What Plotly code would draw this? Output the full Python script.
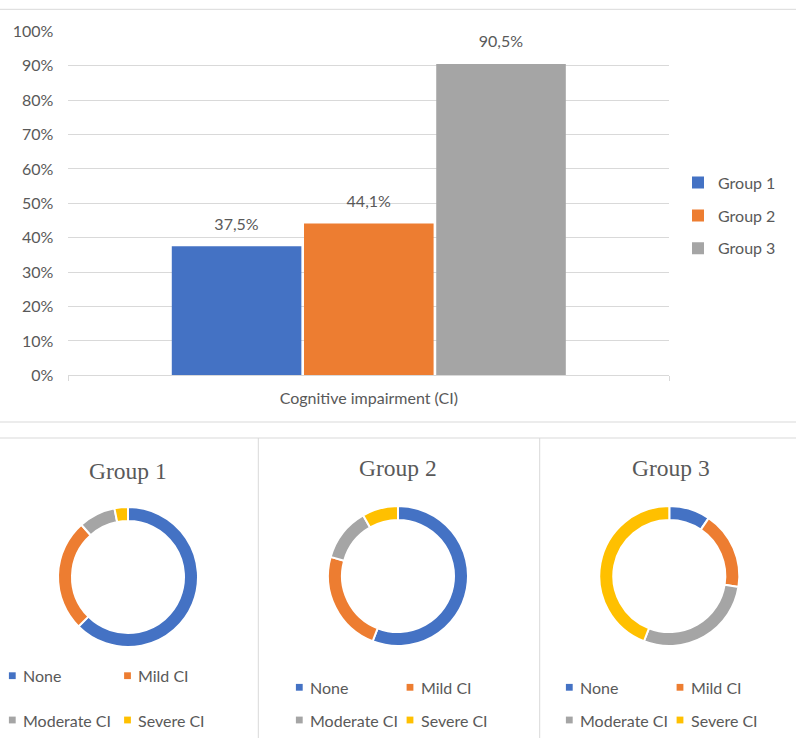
import plotly.graph_objects as go

W, H = 796, 738

# ---------------- data ----------------
category = ["Cognitive impairment (CI)"]
groups = ["Group 1", "Group 2", "Group 3"]
ci_share = [0.375, 0.441, 0.905]
group_colors = ["#4472C4", "#ED7D31", "#A5A5A5"]

severity_labels = ["None", "Mild CI", "Moderate CI", "Severe CI"]
severity_colors = ["#4472C4", "#ED7D31", "#A5A5A5", "#FFC000"]
group1_severity = [62.5, 25.9, 8.5, 3.1]
group2_severity = [55.9, 23.5, 12.3, 8.3]
group3_severity = [9.5, 18.0, 28.4, 44.1]
severity_values = [group1_severity, group2_severity, group3_severity]

y_ticks = [0.0, 0.1, 0.2, 0.3, 0.4, 0.5, 0.6, 0.7, 0.8, 0.9, 1.0]

# ---------------- layout helpers (pixel -> paper) ----------------
def px(x):
    return x / W


def py(y):
    return 1 - y / H


TEXT = "#595959"
LINE = "#D9D9D9"
SANS = "Lato"
SERIF = "Liberation Serif"
FS = 16

fig = go.Figure()

# bars
for name, val, col in zip(groups, ci_share, group_colors):
    fig.add_trace(go.Bar(
        x=category, y=[val], name=name, legendgroup=name,
        marker=dict(color=col, line=dict(width=0)),
        texttemplate="<span style='font-size:%dpx'>%%{y:.1%%}</span><br>\u00a0" % FS,
        textposition="outside",
        textfont=dict(family=SANS, size=9, color=TEXT),
        cliponaxis=False, hoverinfo="skip",
    ))

# donuts
pie_centers = [(128, 577), (398, 576), (669.3, 576)]
R = 70
for name, vals, (cx, cy) in zip(groups, severity_values, pie_centers):
    fig.add_trace(go.Pie(
        labels=severity_labels, values=vals, name=name,
        hole=0.8, sort=False, direction="clockwise", rotation=0,
        marker=dict(colors=severity_colors, line=dict(color="white", width=2)),
        textinfo="none", hoverinfo="label+value", showlegend=False,
        domain=dict(x=[px(cx - R), px(cx + R)], y=[py(cy + R), py(cy - R)]),
    ))

annotations = []
shapes = []

# donut titles
title_y = [471, 467.5, 467.5]
title_x = [128, 398, 671]
for name, tx, ty in zip(groups, title_x, title_y):
    annotations.append(dict(
        text=name, x=px(tx), y=py(ty), xref="paper", yref="paper",
        xanchor="center", yanchor="middle", showarrow=False,
        font=dict(family=SERIF, size=23.5, color=TEXT),
    ))

# donut legends (2 x 2 grid under each donut)
legend_cols = [(12.3, 127.5), (299.3, 410), (569.3, 680)]
legend_rows = [(675.7, 720), (687.3, 720), (687.3, 720)]
for cols, rows in zip(legend_cols, legend_rows):
    for i, (lab, col) in enumerate(zip(severity_labels, severity_colors)):
        mx = cols[i % 2]
        my = rows[i // 2]
        shapes.append(dict(
            type="rect", xref="paper", yref="paper",
            x0=px(mx - 3.4), x1=px(mx + 3.4), y0=py(my + 3.4), y1=py(my - 3.4),
            fillcolor=col, line=dict(width=0),
        ))
        annotations.append(dict(
            text=lab, x=px(mx + 8.5), y=py(my), xref="paper", yref="paper",
            xanchor="left", yanchor="middle", showarrow=False,
            font=dict(family=SANS, size=FS, color=TEXT),
        ))

# chart borders
for (x0, y0, x1, y1) in [(0, 9.3, W, 9.3), (0, 422, W, 422), (0, 438, W, 438),
                         (258.3, 438, 258.3, H), (539.7, 438, 539.7, H)]:
    shapes.append(dict(type="line", xref="paper", yref="paper",
                       x0=px(x0), x1=px(x1), y0=py(y0), y1=py(y1),
                       line=dict(color=LINE, width=1)))

fig.update_layout(
    width=W, height=H,
    margin=dict(l=0, r=0, t=0, b=0, pad=0, autoexpand=False),
    paper_bgcolor="white", plot_bgcolor="white",
    separators=",.",
    barmode="group", bargap=0.34, bargroupgap=0.02,
    font=dict(family=SANS, size=FS, color=TEXT),
    showlegend=True,
    legend=dict(
        x=px(678), y=py(215.7), xanchor="left", yanchor="middle",
        orientation="v", traceorder="grouped", tracegroupgap=9,
        font=dict(family=SANS, size=FS, color=TEXT),
        bgcolor="rgba(0,0,0,0)", itemclick=False, itemdoubleclick=False,
    ),
    xaxis=dict(
        domain=[px(68.3), px(669.3)], type="category",
        showline=True, linecolor=LINE, linewidth=1,
        ticks="outside", tickson="boundaries", ticklen=5, tickcolor=LINE,
        tickfont=dict(family=SANS, size=FS, color=TEXT),
        ticklabelstandoff=8, showgrid=False, fixedrange=True,
    ),
    yaxis=dict(
        domain=[py(375.3), py(31.3)], range=[0, 1.0001],
        tickvals=y_ticks, tickformat=".0%",
        showgrid=True, gridcolor=LINE, gridwidth=1,
        zeroline=False, showline=False, ticks="",
        tickfont=dict(family=SANS, size=FS, color=TEXT),
        ticklabelstandoff=14, fixedrange=True,
    ),
    annotations=annotations,
    shapes=shapes,
)

fig.write_html("out.html", config={"displayModeBar": False},
               post_script="document.body.style.margin='0px';")
